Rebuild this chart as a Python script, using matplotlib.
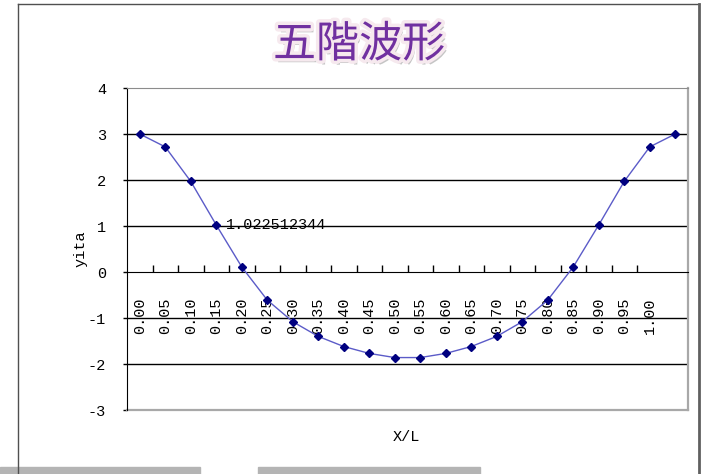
import matplotlib
matplotlib.use("Agg")
import matplotlib.pyplot as plt
import matplotlib.patheffects as pe
from matplotlib.lines import Line2D
from matplotlib.patches import Rectangle

plt.rcParams['font.family'] = ['Liberation Mono', 'DejaVu Sans']
plt.rcParams['axes.unicode_minus'] = False

# fifth-order wave profile, sampled along X/L
x_labels = ['0.00', '0.05', '0.10', '0.15', '0.20', '0.25', '0.30', '0.35',
            '0.40', '0.45', '0.50', '0.55', '0.60', '0.65', '0.70', '0.75',
            '0.80', '0.85', '0.90', '0.95', '1.00', '']
yita = [3.0, 2.72, 1.97, 1.022512344, 0.11, -0.61, -1.08, -1.40, -1.62,
        -1.77, -1.86, -1.86, -1.77, -1.62, -1.40, -1.08, -0.61, 0.11,
        1.022512344, 1.97, 2.72, 3.0]
y_ticks = [-3, -2, -1, 0, 1, 2, 3, 4]
label_idx = 3

fig = plt.figure(figsize=(7.05, 4.74), dpi=100)
ax = fig.add_axes([127 / 705, 64 / 474, 561 / 705, 322 / 474])

# category axis crosses at y = 0 (set before ticks, it resets them)
ax.spines['bottom'].set_position(('data', 0))
ax.spines['bottom'].set_color('black')
ax.spines['left'].set_color('black')
ax.spines['top'].set_color('#8c8c8c')
ax.spines['right'].set_color('#a8a8a8')
ax.spines['right'].set_linewidth(1.6)

xs = list(range(len(yita)))
ax.plot(xs, yita, color='#5b5bc8', lw=1.0, zorder=3)
ax.plot(xs, yita, ls='none', marker='D', ms=4.2, color='#000080', zorder=4)

ax.annotate(f'{yita[label_idx]:.9f}', (label_idx, yita[label_idx]),
            xytext=(7, 0), textcoords='offset points', va='center',
            ha='left', fontsize=11, color='black', zorder=5)

ax.set_xlim(-0.5, len(yita) - 0.5)
ax.set_ylim(-3, 4)
ax.set_yticks(y_ticks)
ax.set_yticklabels([str(v) for v in y_ticks], fontsize=11)
ax.tick_params(axis='y', direction='out', length=3, width=1, pad=12)

ax.set_xticks(xs)
ax.set_xticklabels(x_labels, rotation=90, fontsize=11, va='top', ha='center')
ax.tick_params(axis='x', which='major', length=0, pad=18)

# tick marks between categories, pointing up from the zero line
bounds = [i + 0.5 for i in range(len(yita) - 2)]
ax.plot(bounds, [0] * len(bounds), ls='none', marker=2, ms=5, mew=1,
        color='black', zorder=2, clip_on=False)

for v in y_ticks:
    if v not in (0, 4, -3):
        ax.axhline(v, color='black', lw=1, zorder=1)

ax.plot([0, 1], [0, 0], transform=ax.transAxes, color='#a8a8a8', lw=1.6,
        clip_on=False, zorder=2)

fig.text(81 / 705, 1 - 249 / 474, 'yita', rotation=90, ha='center',
         va='center', fontsize=11)
fig.text(406 / 705, 1 - 437 / 474, 'X/L', ha='center', va='center',
         fontsize=11)

fig.text(359 / 705, 1 - 45 / 474, '五階波形', ha='center', va='center',
         fontsize=31, color='#7030a0', family=['Noto Sans CJK TC', 'DejaVu Sans'],
         path_effects=[pe.SimplePatchShadow(offset=(2, -3), shadow_rgbFace='#808080', alpha=0.45),
                       pe.Stroke(linewidth=5, foreground='#f6e9ee'),
                       pe.Normal()])

# chart area frame
fig.add_artist(Line2D([18 / 705, 18 / 705], [0, 1 - 4 / 474], color='#505050', lw=1))
fig.add_artist(Line2D([18 / 705, 699 / 705], [1 - 4 / 474, 1 - 4 / 474], color='#505050', lw=1))
fig.add_artist(Line2D([699 / 705, 699 / 705], [0, 1 - 4 / 474], color='#606060', lw=2))

# sheet bars along the bottom edge
fig.add_artist(Rectangle((0, 0), 200 / 705, 7 / 474, color='#b4b4b4', transform=fig.transFigure))
fig.add_artist(Rectangle((258 / 705, 0), 222 / 705, 7 / 474, color='#b4b4b4', transform=fig.transFigure))

fig.savefig('out.png', dpi=100)
